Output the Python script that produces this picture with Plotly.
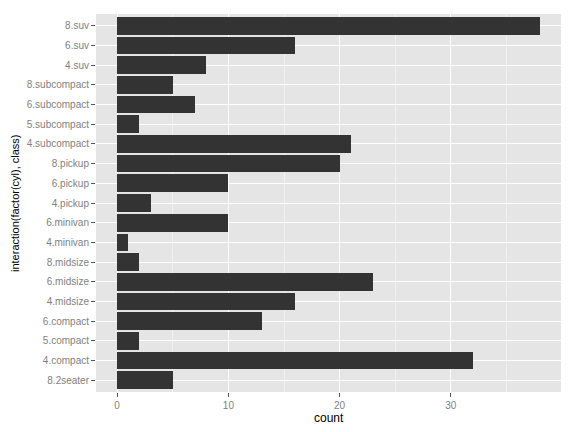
import plotly.graph_objects as go

# counts from the mpg data, cyl x class
groups = ['8.2seater', '4.compact', '5.compact', '6.compact', '4.midsize', '6.midsize',
          '8.midsize', '4.minivan', '6.minivan', '4.pickup', '6.pickup', '8.pickup',
          '4.subcompact', '5.subcompact', '6.subcompact', '8.subcompact',
          '4.suv', '6.suv', '8.suv']
counts = [5, 32, 2, 13, 16, 23, 2, 1, 10, 3, 10, 20, 21, 2, 7, 5, 8, 16, 38]

fig = go.Figure()
fig.add_trace(go.Bar(
    x=counts, y=groups, orientation='h', width=0.9,
    marker=dict(color='#333333', line=dict(width=0)),
))

fig.update_layout(
    width=576, height=432,
    margin=dict(l=96, r=15, t=14, b=40, autoexpand=False),
    plot_bgcolor='#E5E5E5', paper_bgcolor='white',
    font=dict(family='Arial, Liberation Sans', size=10, color='#7F7F7F'),
    showlegend=False,
    bargap=0,
)
fig.update_xaxes(
    range=[-1.9, 39.9], tickvals=[0, 10, 20, 30],
    showgrid=True, gridcolor='white', gridwidth=1.1,
    minor=dict(dtick=5, tick0=0, showgrid=True, gridcolor='#F2F2F2', gridwidth=0.6),
    ticks='outside', ticklen=4, tickcolor='#555555', tickwidth=1,
    zeroline=False, showline=False, automargin=False,
)
fig.update_yaxes(
    categoryorder='array', categoryarray=groups, range=[-0.6, 18.6],
    showgrid=True, gridcolor='white', gridwidth=1.1,
    ticks='outside', ticklen=4, tickcolor='#555555', tickwidth=1,
    zeroline=False, showline=False, automargin=False,
)

# axis titles
fig.add_annotation(text='count', xref='paper', yref='paper', x=0.5, y=-26 / 378,
                   yanchor='middle', showarrow=False, font=dict(size=12, color='black'))
fig.add_annotation(text='interaction(factor(cyl), class)', xref='paper', yref='paper',
                   x=-81 / 465, y=0.5, xanchor='center', textangle=-90,
                   showarrow=False, font=dict(size=11, color='black'))

# page body has a default margin, drop it so the figure sits at the corner
fig.write_html("out.html", config={'displayModeBar': False},
               post_script="document.body.style.margin = '0';")
